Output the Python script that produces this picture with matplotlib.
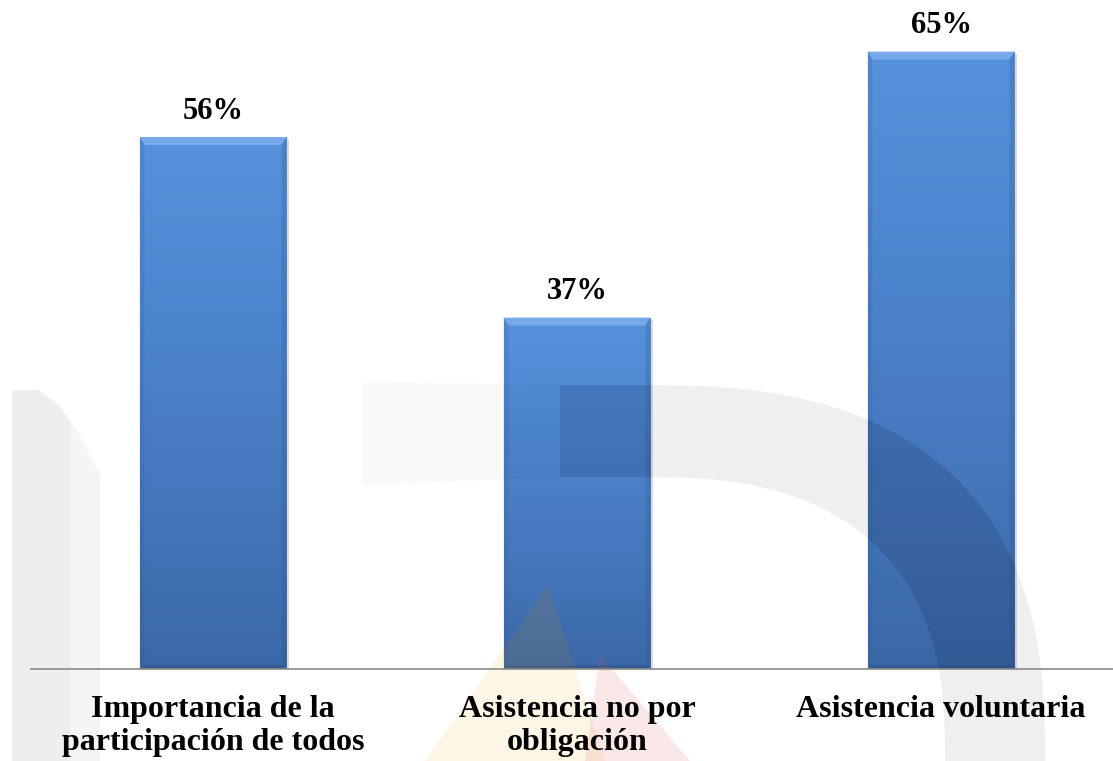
import numpy as np
import matplotlib
matplotlib.use("Agg")
import matplotlib.pyplot as plt
from matplotlib.patches import Polygon, Rectangle
from matplotlib.transforms import Affine2D, offset_copy
from matplotlib.colors import LinearSegmentedColormap

# ---- data -------------------------------------------------------------
categories = [
    "Importancia de la\nparticipación de todos",
    "Asistencia no por\nobligación",
    "Asistencia voluntaria",
]
values = [56, 37, 65]
value_labels = [f"{v}%" for v in values]

# ---- figure / axes ----------------------------------------------------
W, H = 1113, 761
BASE_Y = 669          # baseline row in pixels (from top)
SLOT = 364            # pixels per category
PX_PER_UNIT = 9.5     # pixels per percentage point
LEFT = 31

fig = plt.figure(figsize=(W / 100, H / 100), dpi=100)
fig.patch.set_facecolor("white")
ax = fig.add_axes([LEFT / W, (H - BASE_Y) / H, (W - LEFT) / W, BASE_Y / H])
ax.set_facecolor("white")
ax.set_axisbelow(False)

FONT = "Liberation Serif"
x = np.arange(len(categories))
bar_w = 147 / SLOT

# bars (geometry only, painted with gradients below)
bars = ax.bar(x, values, width=bar_w, color="none", edgecolor="none", zorder=2)

ax.set_xlim(-0.5, -0.5 + (W - LEFT) / SLOT)
ax.set_ylim(0, BASE_Y / PX_PER_UNIT)

# pixel -> data scale factors
sx = (ax.get_xlim()[1] - ax.get_xlim()[0]) / ax.bbox.width
sy = (ax.get_ylim()[1] - ax.get_ylim()[0]) / ax.bbox.height

cmap = LinearSegmentedColormap.from_list(
    "barfill", ["#3b68a7", "#4578bd", "#4d86cf", "#5692dc"])
grad = np.linspace(0, 1, 256).reshape(-1, 1)
shadow_tr = offset_copy(ax.transData, fig=fig, x=2, y=-2, units="dots")

for b in bars:
    x0, y0 = b.get_x(), b.get_y()
    w, h = b.get_width(), b.get_height()
    x1, y1 = x0 + w, y0 + h
    # soft drop shadow
    ax.add_patch(Rectangle((x0, y0), w, h, transform=shadow_tr,
                           facecolor="#8a8a8a", alpha=0.3, edgecolor="none",
                           zorder=1.6))
    im = ax.imshow(grad, extent=[x0, x1, y0, y1], origin="lower", cmap=cmap,
                   aspect="auto", interpolation="bilinear", zorder=2)
    im.set_clip_path(b)
    # bevel edges
    t, s, bt = 8 * sy, 5 * sx, 4 * sy
    ax.add_patch(Polygon([(x0, y1), (x1, y1), (x1 - s, y1 - t), (x0 + s, y1 - t)],
                         closed=True, facecolor="#80b0ec", alpha=0.8,
                         edgecolor="none", zorder=2.1))
    ax.add_patch(Polygon([(x0, y0), (x0 + s, y0 + bt), (x0 + s, y1 - t), (x0, y1)],
                         closed=True, facecolor="#2d5590", alpha=0.18,
                         edgecolor="none", zorder=2.1))
    ax.add_patch(Polygon([(x1, y0), (x1 - s, y0 + bt), (x1 - s, y1 - t), (x1, y1)],
                         closed=True, facecolor="#2d5590", alpha=0.25,
                         edgecolor="none", zorder=2.1))
    ax.add_patch(Polygon([(x0, y0), (x1, y0), (x1 - s, y0 + bt), (x0 + s, y0 + bt)],
                         closed=True, facecolor="#1f3f70", alpha=0.3,
                         edgecolor="none", zorder=2.1))

ax.set_xlim(-0.5, -0.5 + (W - LEFT) / SLOT)
ax.set_ylim(0, BASE_Y / PX_PER_UNIT)

# ---- faint background emblem (pixel coordinates, y downward) ----------
pix = Affine2D().scale(1 / W, -1 / H).translate(0, 1) + fig.transFigure


def superellipse(cx, cy, rx, ry, n, t):
    c, s = np.cos(t), np.sin(t)
    return np.column_stack([cx + rx * np.abs(c) ** (2 / n),
                            cy - ry * np.abs(s) ** (2 / n)])


t = np.linspace(0, np.pi / 2, 120)
outer = superellipse(640, 761, 405, 376, 2.6, t)
inner = superellipse(640, 761, 305, 284, 2.6, t)[::-1]
arch = np.vstack([outer, [(560, 385), (560, 477)], inner])
arch_fade = np.array([(363, 382), (560, 385), (560, 477), (363, 485)])
left_strip = np.array([(12, 390), (38, 390), (58, 405), (78, 432), (100, 475),
                       (100, 761), (12, 761)])
left_core = np.array([(12, 390), (38, 390), (58, 405), (70, 420),
                      (70, 761), (12, 761)])
flame_y = np.array([(548, 585), (605, 761), (425, 761)])
flame_r = np.array([(600, 655), (690, 761), (585, 761)])

gray_shapes = [(arch, 0.065), (arch_fade, 0.025), (left_strip, 0.045),
               (left_core, 0.03)]
for pts, a in gray_shapes:
    ax.add_patch(Polygon(pts, closed=True, transform=pix, clip_on=False,
                         facecolor="#1c1c48", alpha=a, edgecolor="none",
                         zorder=2.3))
ax.add_patch(Polygon(flame_y, closed=True, transform=pix, clip_on=False,
                     facecolor="#f5bd45", alpha=0.13, edgecolor="none",
                     zorder=2.3))
ax.add_patch(Polygon(flame_r, closed=True, transform=pix, clip_on=False,
                     facecolor="#e04848", alpha=0.13, edgecolor="none",
                     zorder=2.3))

# the emblem reads darker where it crosses the bars
for b in bars:
    for pts, a in [(arch, 0.10), (flame_y, 0.08)]:
        p = Polygon(pts, closed=True, transform=pix, facecolor="#0e1e44",
                    alpha=a, edgecolor="none", zorder=2.35)
        ax.add_patch(p)
        p.set_clip_path(b)

# ---- value labels -----------------------------------------------------
for xi, v, lbl in zip(x, values, value_labels):
    ax.annotate(lbl, (xi, v), xytext=(0, 13), textcoords="offset points",
                ha="center", va="baseline", fontsize=22, fontweight="bold",
                family=FONT, color="black", zorder=4)

# ---- axes styling -----------------------------------------------------
ax.set_xticks(x)
ax.set_xticklabels(categories, fontsize=23, fontweight="bold", family=FONT,
                   linespacing=1.2)
ax.tick_params(axis="x", length=0, pad=18.5)
ax.set_yticks([])
for side in ("left", "right", "top"):
    ax.spines[side].set_visible(False)
ax.spines["bottom"].set_color("#8a8a8a")
ax.spines["bottom"].set_linewidth(1.2)

fig.savefig("out.png", dpi=100, facecolor="white")
